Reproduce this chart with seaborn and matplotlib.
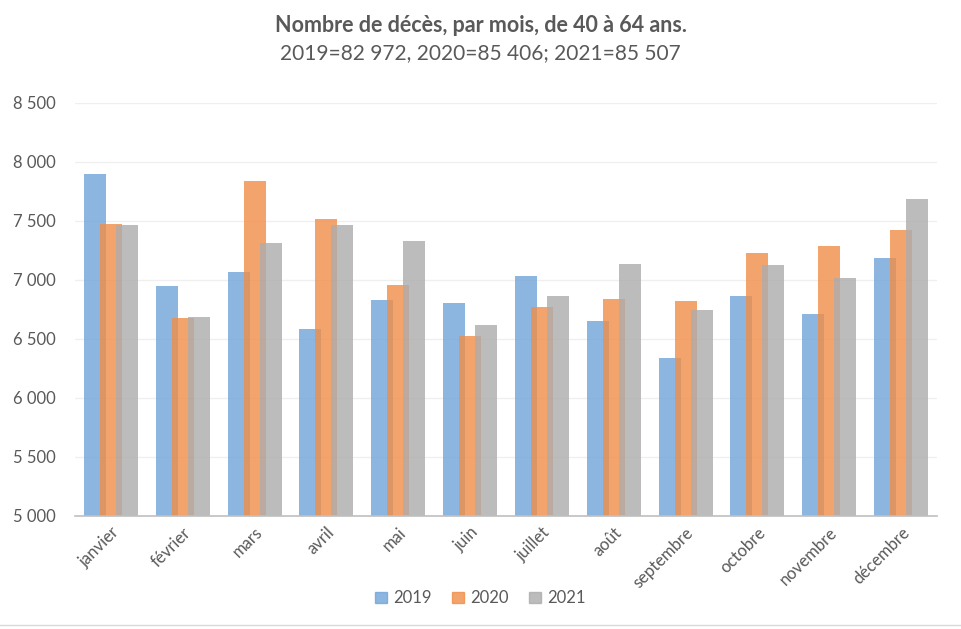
import pandas as pd
import matplotlib
matplotlib.use('Agg')
import matplotlib.pyplot as plt
import seaborn as sns

# monthly deaths, ages 40-64
mois = ['janvier', 'février', 'mars', 'avril', 'mai', 'juin',
        'juillet', 'août', 'septembre', 'octobre', 'novembre', 'décembre']
deces_2019 = [7901, 6952, 7070, 6587, 6833, 6808, 7036, 6655, 6341, 6867, 6714, 7189]
deces_2020 = [7477, 6680, 7842, 7520, 6960, 6528, 6774, 6841, 6824, 7231, 7291, 7426]
deces_2021 = [7469, 6689, 7316, 7469, 7333, 6621, 6867, 7138, 6748, 7130, 7019, 7689]
annees = ['2019', '2020', '2021']
yticks = [5000, 5500, 6000, 6500, 7000, 7500, 8000, 8500]

df = pd.DataFrame({
    'mois': mois * 3,
    'annee': [a for a in annees for _ in mois],
    'deces': deces_2019 + deces_2020 + deces_2021,
})

sns.set_style('white')
plt.rcParams['font.family'] = ['Lato', 'DejaVu Sans']

txt = '#595959'
couleurs = {'2019': '#70A4D9', '2020': '#F18D47', '2021': '#ACACAC'}

fig = plt.figure(figsize=(9.61, 6.29), dpi=100)
ax = fig.add_axes([0.078, 0.1797, 0.897, 0.6566])

sns.barplot(data=df, x='mois', y='deces', hue='annee', palette=couleurs,
            order=mois, hue_order=annees, ax=ax, alpha=0.8, saturation=1,
            linewidth=0, legend=False, err_kws={'linewidth': 0})

# Excel-like overlapping bars
w = 0.306
step = 0.223
for k, cont in enumerate(ax.containers):
    for i, bar in enumerate(cont):
        bar.set_x(i + (k - 1) * step - w / 2)
        bar.set_width(w)

ax.set_xlim(-0.5, 11.5)
ax.set_ylim(5000, 8500)
ax.set_yticks(yticks)
ax.set_yticklabels([f'{v:,}'.replace(',', ' ') for v in yticks])
ax.yaxis.grid(True, color='#EFEFEF', linewidth=0.9)
ax.set_axisbelow(True)
for s in ['top', 'right', 'left']:
    ax.spines[s].set_visible(False)
ax.spines['bottom'].set_color('#BFBFBF')
ax.spines['bottom'].set_linewidth(1.2)
ax.tick_params(axis='both', length=0, colors=txt, labelsize=12)
ax.tick_params(axis='y', pad=14)
ax.tick_params(axis='x', pad=6)
ax.set_xlabel('')
ax.set_ylabel('')
plt.setp(ax.get_xticklabels(), rotation=45, ha='right', rotation_mode='anchor')

fig.text(0.5, 0.96, 'Nombre de décès, par mois, de 40 à 64 ans.', ha='center',
         va='center', fontsize=15.5, fontweight='bold', color=txt)
fig.text(0.5, 0.916, '2019=82 972, 2020=85 406; 2021=85 507', ha='center',
         va='center', fontsize=15, color=txt)

handles = [plt.Rectangle((0, 0), 1, 1, color=couleurs[a], alpha=0.8) for a in annees]
fig.legend(handles, annees, loc='center', bbox_to_anchor=(0.5, 0.049), ncol=3,
           frameon=False, fontsize=12, handlelength=0.7, handleheight=0.7,
           handletextpad=0.4, columnspacing=1.2, labelcolor=txt)

fig.add_artist(plt.Line2D([0, 1], [0.006, 0.006], color='#D9D9D9', linewidth=1))

fig.savefig('out.png', dpi=100)
